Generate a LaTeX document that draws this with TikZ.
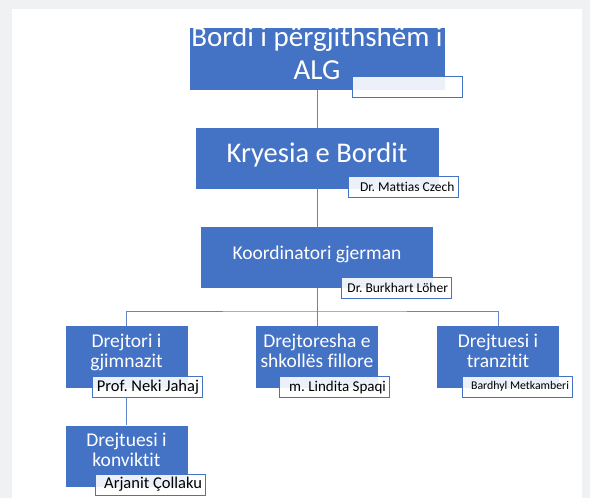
\documentclass[tikz,border=0pt]{standalone}
\usepackage{fontspec}
\setmainfont{Carlito}[Ligatures=NoCommon]
\usepackage{xcolor}
\usetikzlibrary{positioning,calc}
\definecolor{boxblue}{RGB}{68,114,196}
\definecolor{pagegrey}{RGB}{240,241,243}
\frenchspacing

\begin{document}
\begin{tikzpicture}[x=1pt, y=-1pt,
    unit/.style={rectangle, fill=boxblue, inner sep=0pt, minimum width=122pt, minimum height=62pt},
    unittext/.style={text=white, align=center, inner sep=0pt},
    tag/.style={rectangle, draw=boxblue, line width=0.8pt, fill=white, fill opacity=0.9, text opacity=1,
        text width=103pt, align=flush right, inner xsep=3.5pt, inner ysep=0pt, minimum height=21pt},
    link/.style={draw=boxblue!85!white, line width=0.7pt}]
    \useasboundingbox (0,0) rectangle (590,498);
    \fill[pagegrey] (0,0) rectangle (590,498);
    \fill[white] (12,9) rectangle (582,498);

    \node[unit, minimum width=255pt] (board) at (317,59) {};
    \node[unit, minimum width=243pt, minimum height=61pt] (chair) at (317,158.5) {};
    \node[unit, minimum width=232pt, minimum height=61pt] (coord) at (317,257.5) {};
    \node[unit] (gym) at (126.5,357) {};
    \node[unit] (primary) at (317,357) {};
    \node[unit] (transit) at (498,357) {};
    \node[unit, minimum height=61pt] (dorm) at (126.5,456) {};

    \node[unittext, font=\fontsize{29}{32.5}\selectfont] (board-t) at (317,56.5) {\strut Bordi i përgjithshëm i\\\strut ALG};
    \node[unittext, anchor=base, font=\fontsize{28.5}{32}\selectfont] (chair-t) at (317,162.7) {Kryesia e Bordit};
    \node[unittext, anchor=base, font=\fontsize{19.5}{22}\selectfont] (coord-t) at (317,259.3) {Koordinatori gjerman};
    \node[unittext, font=\fontsize{19.5}{19.5}\selectfont] (gym-t) at (126.5,353.5) {\strut Drejtori i\\\strut gjimnazit};
    \node[unittext, font=\fontsize{19.5}{19.5}\selectfont] (primary-t) at (317,353.5) {\strut Drejtoresha e\\\strut shkollës fillore};
    \node[unittext, font=\fontsize{19.5}{19.5}\selectfont] (transit-t) at (498,353.5) {\strut Drejtuesi i\\\strut tranzitit};
    \node[unittext, font=\fontsize{19.5}{19.5}\selectfont] (dorm-t) at (126.5,452.5) {\strut Drejtuesi i\\\strut konviktit};

    \coordinate (split) at (317,311);
    \draw[link] (board.south) -- (chair.north);
    \draw[link] (chair.south) -- (coord.north);
    \draw[link] (coord.south) -- (split);
    \draw[link] (gym.north) |- (split) -| (transit.north);
    \draw[link] (split) -- (primary.north);

    \node[tag] (tag-board) at (407.5,86.5) {};
    \node[tag, font=\fontsize{13.5}{15}\selectfont] (tag-chair) at (403,187) {Dr. Mattias Czech};
    \node[tag, font=\fontsize{13.5}{15}\selectfont] (tag-coord) at (396.5,287.5) {Dr. Burkhart Löher};
    \node[tag, font=\fontsize{16.5}{18}\selectfont] (tag-gym) at (147.5,387) {Prof. Neki Jahaj};
    \node[tag, font=\fontsize{15}{17}\selectfont] (tag-primary) at (334.5,387) {m. Lindita Spaqi};
    \node[tag, font=\fontsize{11.8}{13}\selectfont] (tag-transit) at (517.5,386.5) {Bardhyl Metkamberi};
    \node[tag, font=\fontsize{16.5}{18}\selectfont] (tag-dorm) at (150.5,484.5) {Arjanit Çollaku};

    \draw[link] (tag-gym.south -| dorm.north) -- (dorm.north);
\end{tikzpicture}
\end{document}
